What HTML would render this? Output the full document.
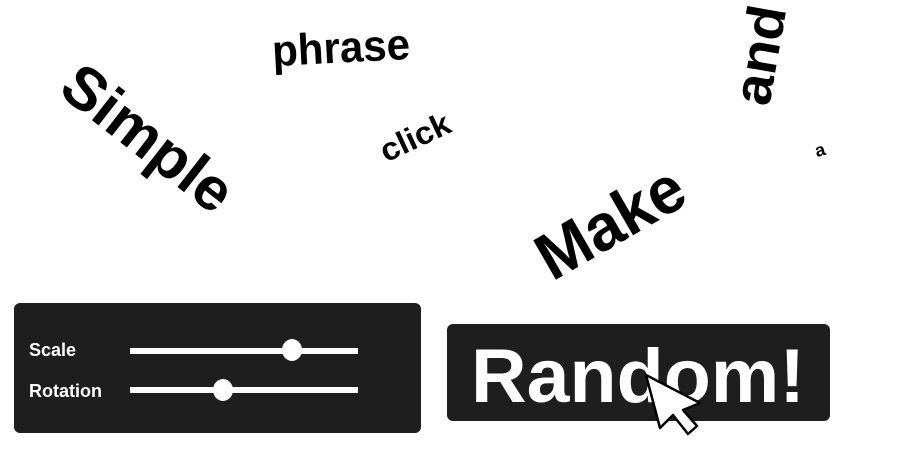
<!DOCTYPE html>
<html><head><meta charset="utf-8"><style>
html,body{margin:0;padding:0;background:#fff;width:912px;height:471px;overflow:hidden}
svg{display:block}
text{font-family:"Liberation Sans",sans-serif;font-weight:bold}
</style></head><body>
<svg width="912" height="471" viewBox="0 0 912 471">
<g fill="#000">
<text x="0" y="0" font-size="60" text-anchor="middle" dominant-baseline="central" textLength="200" lengthAdjust="spacingAndGlyphs" transform="translate(148,138) rotate(38)">Simple</text>
<text x="0" y="0" font-size="44" text-anchor="middle" dominant-baseline="central" textLength="138" lengthAdjust="spacingAndGlyphs" transform="translate(341,48) rotate(-3)">phrase</text>
<text x="0" y="0" font-size="32" text-anchor="middle" dominant-baseline="central" textLength="74" lengthAdjust="spacingAndGlyphs" transform="translate(415,137) rotate(-25)">click</text>
<text x="0" y="0" font-size="66" text-anchor="middle" dominant-baseline="central" textLength="160" lengthAdjust="spacingAndGlyphs" transform="translate(610,222) rotate(-30)">Make</text>
<text x="0" y="0" font-size="54" text-anchor="middle" dominant-baseline="central" textLength="100" lengthAdjust="spacingAndGlyphs" transform="translate(760,55) rotate(-80)">and</text>
<text x="0" y="0" font-size="18" text-anchor="middle" dominant-baseline="central" transform="translate(820,150) rotate(-15)">a</text>
</g>
<rect x="14" y="303" width="407" height="130" rx="6" fill="#1e1e1e"/>
<text x="29" y="356" font-size="18" fill="#fff">Scale</text>
<text x="29" y="397" font-size="18" fill="#fff">Rotation</text>
<rect x="130" y="348" width="228" height="6" fill="#fff"/>
<rect x="130" y="387" width="228" height="6" fill="#fff"/>
<ellipse cx="292" cy="350" rx="10" ry="11" fill="#fff"/>
<ellipse cx="223" cy="390" rx="10" ry="11" fill="#fff"/>
<rect x="447" y="324" width="383" height="97" rx="6" fill="#1e1e1e"/>
<text x="638" y="402" font-size="76" fill="#fff" text-anchor="middle" textLength="334" lengthAdjust="spacingAndGlyphs">Random!</text>
<polygon points="646,375 700,403 683,410 697,426 688,434 673,415 660,428" fill="#fff" stroke="#000" stroke-width="2.5" stroke-linejoin="round"/>
</svg>
</body></html>
